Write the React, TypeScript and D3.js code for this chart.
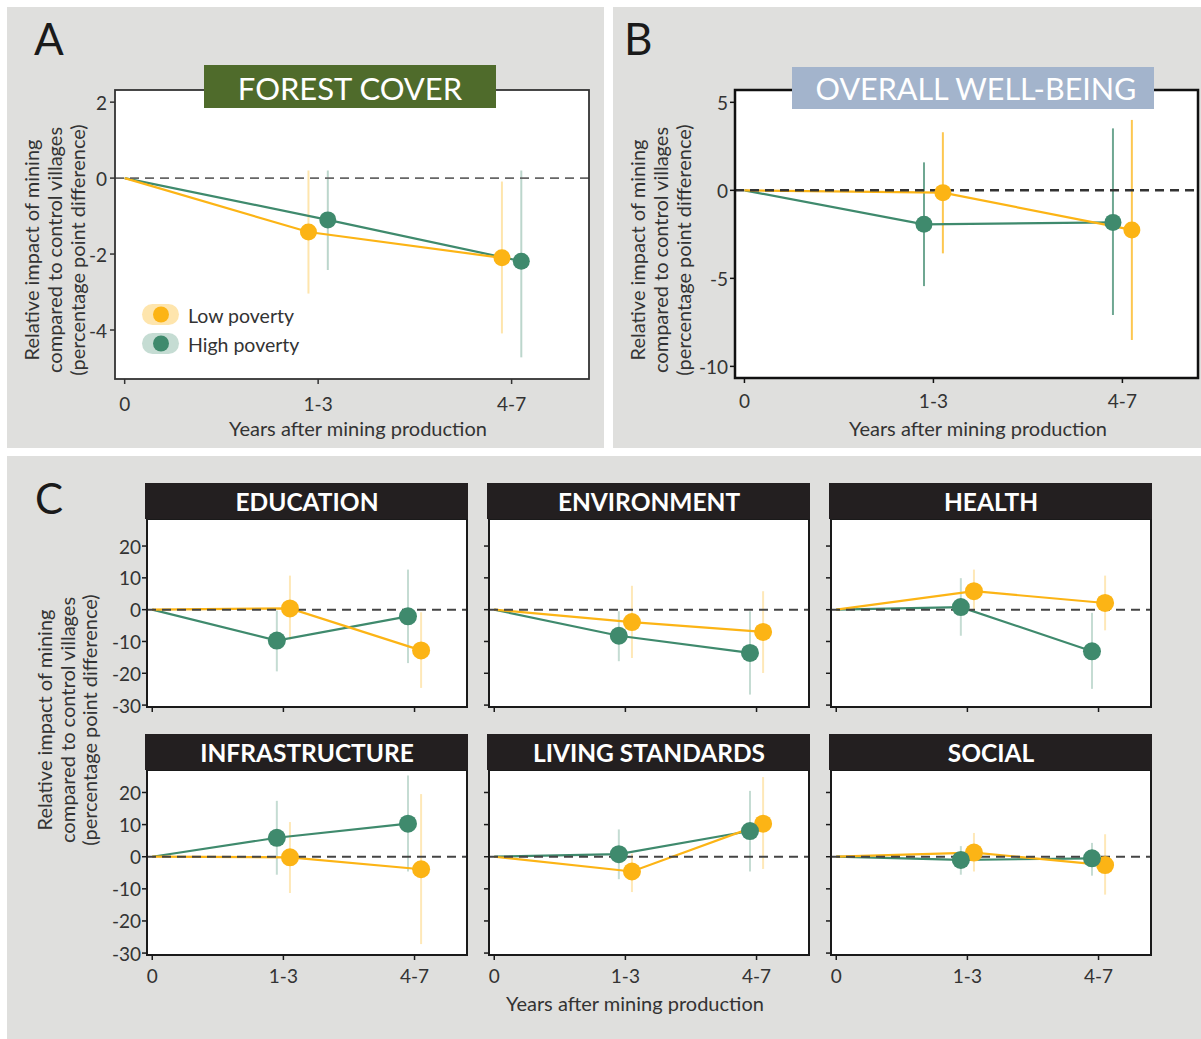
import React from "react";
import * as d3 from "d3";

// ---------- DATA ----------
const xCategories = ["0", "1-3", "4-7"];
const seriesNames = ["Low poverty", "High poverty"];

// Panel A: Forest cover (estimate at 0, 1-3, 4-7; CI for 1-3 and 4-7)
const forestLow = [0, -1.42, -2.1];
const forestLowCI = [[-3.04, 0.2], [-4.09, -0.09]];
const forestHigh = [0, -1.1, -2.19];
const forestHighCI = [[-2.42, 0.2], [-4.72, 0.2]];

// Panel B: Overall well-being
const wellbeingLow = [0, -0.13, -2.25];
const wellbeingLowCI = [[-3.58, 3.3], [-8.5, 4.0]];
const wellbeingHigh = [0, -1.93, -1.82];
const wellbeingHighCI = [[-5.44, 1.59], [-7.08, 3.52]];

// Panel C facets
const facetNames = ["EDUCATION", "ENVIRONMENT", "HEALTH", "INFRASTRUCTURE", "LIVING STANDARDS", "SOCIAL"];

const educationLow = [0, 0.4, -12.8];
const educationLowCI = [[-9.4, 10.7], [-24.6, -0.8]];
const educationHigh = [0, -9.7, -2.1];
const educationHighCI = [[-19.4, -0.3], [-16.8, 12.6]];

const environmentLow = [0, -3.9, -7.0];
const environmentLowCI = [[-15.2, 7.5], [-19.9, 5.8]];
const environmentHigh = [0, -8.2, -13.6];
const environmentHighCI = [[-16.2, -0.5], [-26.7, -0.5]];

const healthLow = [0, 5.8, 2.1];
const healthLowCI = [[-0.3, 12.6], [-6.5, 10.7]];
const healthHigh = [0, 0.8, -13.1];
const healthHighCI = [[-8.2, 9.9], [-24.9, -1.0]];

const infrastructureLow = [0, -0.2, -3.9];
const infrastructureLowCI = [[-11.3, 10.8], [-27.2, 19.5]];
const infrastructureHigh = [0, 5.9, 10.3];
const infrastructureHighCI = [[-5.6, 17.4], [-4.6, 25.3]];

const livingLow = [0, -4.6, 10.3];
const livingLowCI = [[-11.0, 1.0], [-3.8, 24.8]];
const livingHigh = [0, 0.8, 8.0];
const livingHighCI = [[-7.0, 8.5], [-4.6, 20.5]];

const socialLow = [0, 1.3, -2.6];
const socialLowCI = [[-4.6, 7.4], [-11.8, 7.0]];
const socialHigh = [0, -1.0, -0.5];
const socialHighCI = [[-5.6, 3.3], [-5.9, 4.3]];

const ticksA = [2, 0, -2, -4];
const ticksB = [5, 0, -5, -10];
const ticksC = [20, 10, 0, -10, -20, -30];

// ---------- STYLE ----------
const ORANGE = "#fcb415";
const GREEN = "#3f8a6d";
const GREY_BG = "#dfdfdd";
const TEXT = "#333333";
const FONT = "Lato, 'Open Sans', 'DejaVu Sans', sans-serif";

type PanelProps = {
  box: { l: number; r: number; t: number; b: number };
  xDomain: [number, number];
  yDomain: [number, number];
  yTicks: number[];
  showYLabels: boolean;
  showXLabels: boolean;
  low: number[];
  lowCI: number[][];
  high: number[];
  highCI: number[][];
  lowDodge: number;
  highDodge: number;
  ciOpacity: number;
  frameColor: string;
  frameWidth: number;
  dashColor: string;
  dashWidth: number;
  r: number;
  tickFont: number;
  yLabelGap: number;
  xLabelGap: number;
};

function Panel(p: PanelProps) {
  const { box } = p;
  const x = d3.scaleLinear().domain(p.xDomain).range([box.l, box.r]);
  const y = d3.scaleLinear().domain(p.yDomain).range([box.b, box.t]);
  const line = d3
    .line<[number, number]>()
    .x((d) => x(d[0]))
    .y((d) => y(d[1]));

  const seriesPts = (est: number[], dodge: number): [number, number][] =>
    est.map((v, i) => [i === 0 ? 0 : i + dodge, v] as [number, number]);

  const lowPts = seriesPts(p.low, p.lowDodge);
  const highPts = seriesPts(p.high, p.highDodge);

  const bars = (pts: [number, number][], ci: number[][], color: string, key: string) =>
    ci.map((c, j) => (
      <line
        key={key + j}
        x1={x(pts[j + 1][0])}
        x2={x(pts[j + 1][0])}
        y1={y(c[0])}
        y2={y(c[1])}
        stroke={color}
        strokeOpacity={p.ciOpacity}
        strokeWidth={2}
      />
    ));

  const dots = (pts: [number, number][], color: string, key: string) =>
    pts.slice(1).map((d, j) => (
      <circle key={key + j} cx={x(d[0])} cy={y(d[1])} r={p.r} fill={color} />
    ));

  return (
    <g>
      <rect x={box.l} y={box.t} width={box.r - box.l} height={box.b - box.t} fill="#fff" />
      {bars(highPts, p.highCI, GREEN, "hb")}
      {bars(lowPts, p.lowCI, ORANGE, "lb")}
      <path d={line(highPts) || ""} fill="none" stroke={GREEN} strokeWidth={2.2} />
      <path d={line(lowPts) || ""} fill="none" stroke={ORANGE} strokeWidth={2.2} />
      <line
        x1={box.l}
        x2={box.r}
        y1={y(0)}
        y2={y(0)}
        stroke={p.dashColor}
        strokeWidth={p.dashWidth}
        strokeDasharray="9,6"
      />
      {dots(lowPts, ORANGE, "ld")}
      {dots(highPts, GREEN, "hd")}
      <rect
        x={box.l}
        y={box.t}
        width={box.r - box.l}
        height={box.b - box.t}
        fill="none"
        stroke={p.frameColor}
        strokeWidth={p.frameWidth}
      />
      {p.yTicks.map((t) => (
        <g key={"yt" + t}>
          <line x1={box.l - 5} x2={box.l} y1={y(t)} y2={y(t)} stroke={p.frameColor} strokeWidth={1.5} />
          {p.showYLabels && (
            <text
              x={box.l - p.yLabelGap}
              y={y(t)}
              textAnchor="end"
              dominantBaseline="central"
              fontSize={p.tickFont}
              fill={TEXT}
            >
              {t}
            </text>
          )}
        </g>
      ))}
      {xCategories.map((c, i) => (
        <g key={"xt" + c}>
          <line x1={x(i)} x2={x(i)} y1={box.b} y2={box.b + 5} stroke={p.frameColor} strokeWidth={1.5} />
          {p.showXLabels && (
            <text
              x={x(i)}
              y={box.b + p.xLabelGap}
              textAnchor="middle"
              dominantBaseline="central"
              fontSize={p.tickFont}
              fill={TEXT}
            >
              {c}
            </text>
          )}
        </g>
      ))}
    </g>
  );
}

function YTitle({ xs, cy }: { xs: number[]; cy: number }) {
  const lines = ["Relative impact of mining", "compared to control villages", "(percentage point difference)"];
  return (
    <g>
      {lines.map((l, i) => (
        <text
          key={l}
          transform={`translate(${xs[i]},${cy}) rotate(-90)`}
          textAnchor="middle"
          dominantBaseline="central"
          fontSize={20}
          fill={TEXT}
        >
          {l}
        </text>
      ))}
    </g>
  );
}

export default function App() {
  const facetLow = [educationLow, environmentLow, healthLow, infrastructureLow, livingLow, socialLow];
  const facetLowCI = [educationLowCI, environmentLowCI, healthLowCI, infrastructureLowCI, livingLowCI, socialLowCI];
  const facetHigh = [educationHigh, environmentHigh, healthHigh, infrastructureHigh, livingHigh, socialHigh];
  const facetHighCI = [educationHighCI, environmentHighCI, healthHighCI, infrastructureHighCI, livingHighCI, socialHighCI];

  const colL = [147, 489, 831];
  const colW = 320;
  const rowT = [519, 770];
  const rowB = [707, 955];
  const rowTop = [28.5, 27];

  return (
    <svg
      width={1201}
      height={1039}
      style={{ position: "absolute", left: 0, top: 0, display: "block" }}
      fontFamily={FONT}
    >
      <rect width={1201} height={1039} fill="#fff" />
      <rect x={7} y={7} width={597} height={441} fill={GREY_BG} />
      <rect x={613} y={7} width={588} height={441} fill={GREY_BG} />
      <rect x={7} y={456} width={1194} height={583} fill={GREY_BG} />

      {/* Panel A */}
      <text x={34} y={55} fontSize={44} fill="#1a1a1a">A</text>
      <YTitle xs={[31, 54, 77]} cy={250} />
      <Panel
        box={{ l: 115, r: 589, t: 90, b: 379 }}
        xDomain={[-0.05, 2.4]}
        yDomain={[-5.29, 2.32]}
        yTicks={ticksA}
        showYLabels
        showXLabels
        low={forestLow}
        lowCI={forestLowCI}
        high={forestHigh}
        highCI={forestHighCI}
        lowDodge={-0.05}
        highDodge={0.05}
        ciOpacity={0.35}
        frameColor="#333"
        frameWidth={1.8}
        dashColor="#666"
        dashWidth={1.6}
        r={8.5}
        tickFont={19}
        yLabelGap={8}
        xLabelGap={24}
      />
      <rect x={204} y={65} width={292} height={43} fill="#4f6b2b" />
      <text x={350} y={88} textAnchor="middle" dominantBaseline="central" fontSize={31} fill="#fff">
        FOREST COVER
      </text>
      {/* Legend */}
      <rect x={142} y={304} width={37} height={21} rx={10.5} fill={ORANGE} fillOpacity={0.35} />
      <circle cx={161} cy={314.5} r={8} fill={ORANGE} />
      <rect x={142} y={333} width={37} height={21} rx={10.5} fill={GREEN} fillOpacity={0.3} />
      <circle cx={161} cy={343.5} r={8} fill={GREEN} />
      <text x={188} y={315} dominantBaseline="central" fontSize={19.5} fill={TEXT}>{seriesNames[0]}</text>
      <text x={188} y={344} dominantBaseline="central" fontSize={19.5} fill={TEXT}>{seriesNames[1]}</text>
      <text x={358} y={428} textAnchor="middle" dominantBaseline="central" fontSize={20} fill={TEXT}>
        Years after mining production
      </text>

      {/* Panel B */}
      <text x={624} y={55} fontSize={44} fill="#1a1a1a">B</text>
      <YTitle xs={[637, 660, 683]} cy={250} />
      <Panel
        box={{ l: 735, r: 1198, t: 90, b: 378 }}
        xDomain={[-0.05, 2.4]}
        yDomain={[-10.66, 5.7]}
        yTicks={ticksB}
        showYLabels
        showXLabels
        low={wellbeingLow}
        lowCI={wellbeingLowCI}
        high={wellbeingHigh}
        highCI={wellbeingHighCI}
        lowDodge={0.05}
        highDodge={-0.05}
        ciOpacity={0.75}
        frameColor="#111"
        frameWidth={2.5}
        dashColor="#333"
        dashWidth={2.5}
        r={8.5}
        tickFont={19}
        yLabelGap={7}
        xLabelGap={22}
      />
      <rect x={792} y={67} width={362} height={42} fill="#a3b4cc" />
      <text x={976} y={88} textAnchor="middle" dominantBaseline="central" fontSize={30.5} fill="#fff">
        OVERALL WELL-BEING
      </text>
      <text x={978} y={428} textAnchor="middle" dominantBaseline="central" fontSize={20} fill={TEXT}>
        Years after mining production
      </text>

      {/* Panel C */}
      <text x={35} y={514} fontSize={42} fill="#1a1a1a">C</text>
      <YTitle xs={[44, 67, 89]} cy={720} />
      {facetNames.map((name, k) => {
        const row = Math.floor(k / 3);
        const col = k % 3;
        const l = colL[col];
        const t = rowT[row];
        const b = rowB[row];
        return (
          <g key={name}>
            <Panel
              box={{ l, r: l + colW, t, b }}
              xDomain={[-0.04, 2.4]}
              yDomain={[-30.6, rowTop[row]]}
              yTicks={ticksC}
              showYLabels={col === 0}
              showXLabels={row === 1}
              low={facetLow[k]}
              lowCI={facetLowCI[k]}
              high={facetHigh[k]}
              highCI={facetHighCI[k]}
              lowDodge={0.05}
              highDodge={-0.05}
              ciOpacity={0.3}
              frameColor="#1a1a1a"
              frameWidth={2}
              dashColor="#444"
              dashWidth={2}
              r={9}
              tickFont={19}
              yLabelGap={6}
              xLabelGap={20}
            />
            <rect x={l - 2} y={t - 36} width={colW + 3} height={36} fill="#231f20" />
            <text
              x={l + colW / 2}
              y={t - 18}
              textAnchor="middle"
              dominantBaseline="central"
              fontSize={24.5}
              fontWeight={700}
              fill="#fff"
            >
              {name}
            </text>
          </g>
        );
      })}
      <text x={635} y={1003} textAnchor="middle" dominantBaseline="central" fontSize={20} fill={TEXT}>
        Years after mining production
      </text>
    </svg>
  );
}
